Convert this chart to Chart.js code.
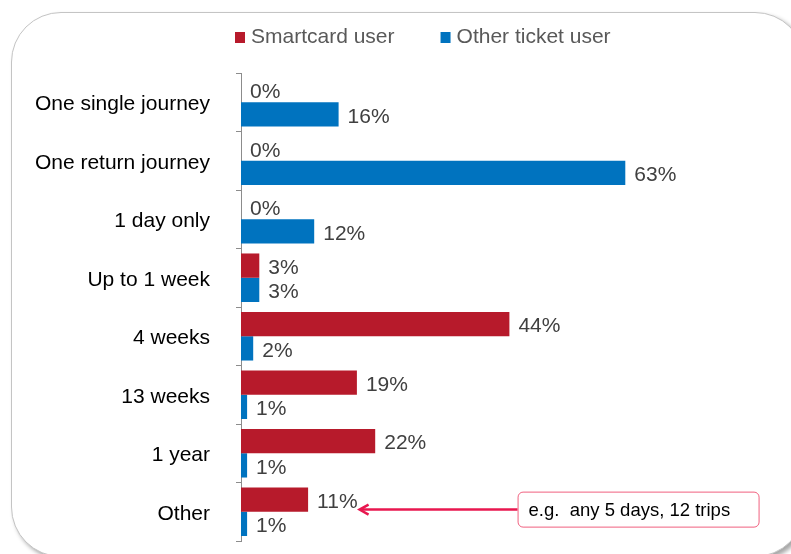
<!DOCTYPE html>
<html>
<head>
<meta charset="utf-8">
<script src="https://cdn.jsdelivr.net/npm/chart.js@4.4.1/dist/chart.umd.min.js"></script>
<style>
  html, body { margin:0; padding:0; background:#fff; }
  #wrap { position:relative; width:791px; height:554px; overflow:hidden; }
  #frame {
    position:absolute; left:11px; top:12px; width:792px; height:543px;
    border:1px solid #c4c4c4; border-radius:50px;
    box-shadow:3px 3px 4px rgba(0,0,0,0.35);
    background:#fff;
  }
  #chart { position:absolute; left:0; top:0; }
</style>
</head>
<body>
<div id="wrap">
  <div id="frame"></div>
  <canvas id="chart" width="791" height="554"></canvas>
</div>
<script>
const categories = ["One single journey","One return journey","1 day only","Up to 1 week","4 weeks","13 weeks","1 year","Other"]
const smartcard = [0,0,0,3,44,19,22,11]
const otherTicket = [16,63,12,3,2,1,1,1]
const seriesNames = ["Smartcard user","Other ticket user"]
const seriesColors = ["#B71A2B","#0073BF"]
const noteText = "e.g.  any 5 days, 12 trips"

const FONT = "'Liberation Sans', Arial, sans-serif"

// value labels at the end of each bar
const valueLabels = {
  id:"valueLabels",
  afterDatasetsDraw(chart){
    const ctx = chart.ctx
    ctx.save()
    ctx.font = "21px " + FONT
    ctx.fillStyle = "#404040"
    ctx.textBaseline = "middle"
    ctx.textAlign = "left"
    chart.data.datasets.forEach((ds, i) => {
      chart.getDatasetMeta(i).data.forEach((bar, j) => {
        ctx.fillText(ds.data[j] + "%", bar.x + 9, bar.y + 2.5)
      })
    })
    ctx.restore()
  }
}

// legend drawn above the plot
const topLegend = {
  id:"topLegend",
  afterDraw(chart){
    const ctx = chart.ctx
    ctx.save()
    ctx.font = "21px " + FONT
    ctx.textBaseline = "middle"
    let x = 235
    const y = 37
    chart.data.datasets.forEach(ds => {
      ctx.fillStyle = ds.backgroundColor
      ctx.fillRect(x, y - 5, 10, 11)
      ctx.fillStyle = "#595959"
      ctx.fillText(ds.label, x + 16, y)
      x += 16 + ctx.measureText(ds.label).width + 46
    })
    ctx.restore()
  }
}

// callout box pointing at the "Other" smartcard label
const callout = {
  id:"callout",
  afterDraw(chart){
    const ctx = chart.ctx
    const idx = categories.indexOf("Other")
    const bar = chart.getDatasetMeta(0).data[idx]
    ctx.save()
    ctx.font = "21px " + FONT
    const tipX = bar.x + 9 + ctx.measureText(smartcard[idx] + "%").width + 2
    const y = bar.y + 10
    const boxX = tipX + 158, boxW = 241, boxH = 35
    ctx.strokeStyle = "#E8174F"
    ctx.lineWidth = 2.5
    ctx.beginPath()
    ctx.moveTo(boxX, y)
    ctx.lineTo(tipX + 1, y)
    ctx.stroke()
    ctx.beginPath()
    ctx.moveTo(tipX + 9, y - 5)
    ctx.lineTo(tipX, y)
    ctx.lineTo(tipX + 9, y + 5)
    ctx.stroke()
    ctx.lineWidth = 1
    ctx.strokeStyle = "#F0607F"
    ctx.fillStyle = "#fff"
    ctx.beginPath()
    ctx.roundRect(boxX + 0.5, y - 17.5, boxW, boxH, 5)
    ctx.fill()
    ctx.stroke()
    ctx.fillStyle = "#000"
    ctx.font = "18.5px " + FONT
    ctx.textBaseline = "middle"
    ctx.fillText(noteText, boxX + 11, y + 1.5)
    ctx.restore()
  }
}

new Chart(document.getElementById("chart"), {
  type:"bar",
  data:{
    labels:categories,
    datasets:[
      { label:seriesNames[0], data:smartcard, backgroundColor:seriesColors[0] },
      { label:seriesNames[1], data:otherTicket, backgroundColor:seriesColors[1] }
    ]
  },
  options:{
    indexAxis:"y",
    responsive:false,
    animation:false,
    devicePixelRatio:1,
    categoryPercentage:0.83,
    barPercentage:1,
    layout:{ padding:{ top:73, bottom:13, left:0, right:1 } },
    plugins:{
      legend:{ display:false },
      tooltip:{ enabled:false }
    },
    scales:{
      x:{ display:false, min:0, max:90 },
      y:{
        afterFit(scale){
          scale.width = 241
          scale.paddingTop = 0
          scale.paddingBottom = 0
        },
        border:{ display:true, color:"#8c8c8c", width:1 },
        grid:{ display:true, drawOnChartArea:false, drawTicks:true, tickLength:5, color:"#8c8c8c", offset:true },
        ticks:{ color:"#000", padding:26, labelOffset:2, font:{ size:21, family:FONT } }
      }
    }
  },
  plugins:[valueLabels, topLegend, callout]
})
</script>
</body>
</html>
